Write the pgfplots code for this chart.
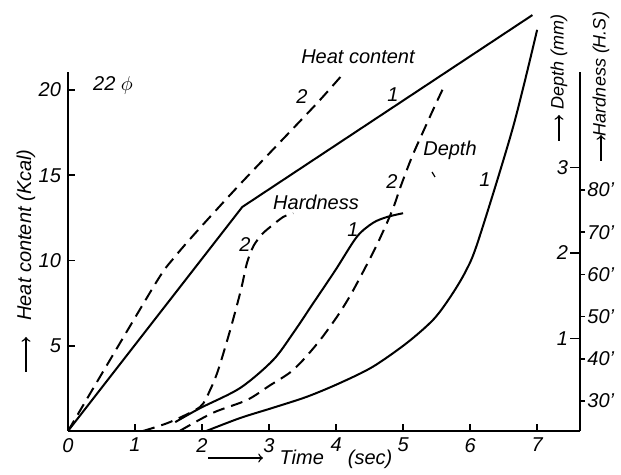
\documentclass[border=0pt]{standalone}
\usepackage{fontspec}
\setmainfont{Liberation Sans}
\usepackage{pgfplots}
\pgfplotsset{compat=1.18}
\begin{document}
\begin{tikzpicture}[font=\fontsize{10}{12}\selectfont\itshape]
\useasboundingbox (-34pt,-22pt) rectangle (276.5pt,215.5pt);
\pgfplotsset{
  base/.style={
    at={(0,0)}, anchor=south west, scale only axis,
    width=256pt, height=179.5pt,
    xmin=0, xmax=7.64, clip=false,
    /pgf/number format/assume math mode=true,
    tick label style={font=\fontsize{10}{12}\selectfont\itshape},
    major tick style={line width=0.8pt, black},
  },
  noarrows/.style={
    axis line style={-, line width=1.1pt},
    every outer x axis line/.append style={-},
    every outer y axis line/.append style={-},
    every inner x axis line/.append style={-},
    every inner y axis line/.append style={-},
  },
  curve/.style={black, line width=1pt, no markers},
  dcurve/.style={curve, dash pattern=on 6pt off 3.5pt},
}
% Heat content (Kcal)
\begin{axis}[base,
  ymin=0, ymax=21.06,
  axis x line=bottom, axis y line=left, noarrows,
  xtick={0,1,2,3,4,5,6,7}, ytick={5,10,15,20},
  tick align=inside, major tick length=3.5pt,
]
\addplot[curve] coordinates {(0,0) (2.60,13.14) (6.93,24.40)};
\addplot[dcurve, smooth, tension=0.4] coordinates {(0,0) (1.30,8.62) (1.58,10.15) (1.90,11.61) (2.57,14.49) (3.69,19.12) (4.13,21.06)};
\end{axis}
% Depth (mm)
\begin{axis}[base,
  ymin=-0.082, ymax=4.117,
  axis x line=none, axis y line=right, noarrows,
  ytick={1,2,3}, tick align=inside, major tick length=5pt,
  yticklabel style={anchor=east, xshift=-2.5pt},
]
\addplot[curve, smooth, tension=0.5] coordinates {(2.07,-0.08) (2.57,0.07) (3.06,0.19) (3.57,0.32) (4.06,0.48) (4.55,0.67) (5.06,0.95) (5.45,1.22) (5.70,1.48) (5.93,1.78) (6.12,2.14) (6.64,3.47) (7.00,4.61)};
\addplot[dcurve, smooth, tension=0.5] coordinates {(1.67,-0.08) (2.16,0.13) (2.67,0.28) (3.01,0.45) (3.31,0.60) (3.51,0.75) (3.76,0.98) (4.01,1.25) (4.21,1.50) (4.43,1.82) (4.63,2.13) (4.84,2.50) (4.96,2.77) (5.13,3.12) (5.30,3.42) (5.48,3.73) (5.60,3.93)};
\end{axis}
% Hardness (H.S)
\begin{axis}[base,
  ymin=22.9, ymax=107.96,
  axis x line=none, axis y line=right, noarrows,
  ytick={30,40,50,60,70,80},
  yticklabels={30’,40’,50’,60’,70’,80’},
  tick align=outside, major tick length=2.5pt,
  yticklabel style={inner sep=1pt},
]
\addplot[curve, smooth, tension=0.5] coordinates {(1.60,25.0) (1.97,28.3) (2.57,33.1) (3.06,39.7) (3.36,46.1) (3.66,53.2) (3.99,61.0) (4.31,68.9) (4.55,72.2) (4.76,73.6) (5.00,74.5)};
\addplot[dcurve, smooth, tension=0.45] coordinates {(1.12,22.9) (1.52,25.0) (1.97,28.6) (2.12,32.6) (2.24,37.3) (2.42,46.8) (2.58,56.3) (2.67,62.7) (2.77,66.8) (2.90,69.6) (3.03,71.4) (3.21,73.6) (3.36,74.5)};
\end{axis}
% annotations
\node at (22.5pt,173pt) {22 $\phi$};
\node at (145pt,187pt) {Heat content};
\node at (117pt,167pt) {2};
\node at (162.5pt,168pt) {1};
\node at (124pt,114.5pt) {Hardness};
\node at (88.5pt,93pt) {2};
\node at (142.5pt,100.5pt) {1};
\node at (191pt,140.5pt) {Depth};
\node at (162pt,124.5pt) {2};
\node at (208.5pt,125.5pt) {1};
\draw[line width=0.6pt] (182pt,129.5pt) -- (183.5pt,127pt);
% axis labels
\draw[->, line width=0.7pt] (70pt,-13.5pt) -- (97.5pt,-13.5pt);
\node at (134pt,-14pt) {Time\hspace{1.2em}(sec)};
\draw[->, line width=0.7pt] (-21pt,29.5pt) -- (-21pt,47pt);
\node[rotate=90] at (-21pt,98pt) {Heat content (Kcal)};
\draw[->, line width=0.7pt] (245.5pt,145pt) -- (245.5pt,158pt);
\node[rotate=90, font=\fontsize{9}{11}\selectfont\itshape] at (245.5pt,184.5pt) {Depth (mm)};
\draw[->, line width=0.7pt] (266.5pt,135pt) -- (266.5pt,148pt);
\node[rotate=90, font=\fontsize{9}{11}\selectfont\itshape] at (266.5pt,178.5pt) {Hardness (H.S)};
\end{tikzpicture}
\end{document}
